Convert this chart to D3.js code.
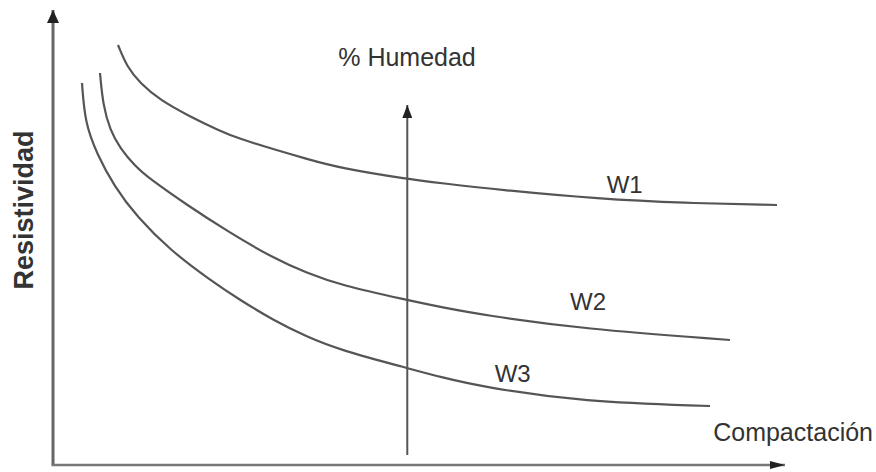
<!DOCTYPE html>
<html>
<head>
<meta charset="utf-8">
<script src="https://d3js.org/d3.v7.min.js"></script>
<style>
  body { margin: 0; background: #fff; }
  text { font-family: "Liberation Sans", Arial, sans-serif; fill: #333; }
</style>
</head>
<body>
<svg id="chart"></svg>
<script>
  // Curves (compactación 0-100 vs resistividad 0-100)
  const w1X = [8.88, 10.11, 11.89, 14.62, 18.31, 22.81, 25.55, 30.05, 34.70, 39.21, 48.36, 52.87, 61.07, 74.73, 86.07, 98.91];
  const w1Y = [92.31, 87.47, 83.96, 80.22, 76.92, 73.41, 71.65, 69.45, 67.25, 65.27, 62.86, 61.98, 60.44, 58.46, 57.58, 57.14];
  const w2X = [6.42, 6.83, 7.79, 9.15, 11.20, 13.25, 18.31, 23.77, 30.05, 34.70, 39.21, 48.36, 52.87, 58.74, 72.40, 92.49];
  const w2Y = [86.15, 79.12, 73.63, 69.67, 65.71, 62.86, 57.14, 51.43, 45.49, 42.20, 39.56, 36.26, 34.73, 32.97, 29.89, 27.47];
  const w3X = [3.96, 4.37, 6.01, 8.33, 11.48, 15.98, 21.45, 25.55, 30.05, 34.70, 39.21, 48.36, 52.87, 58.74, 72.40, 89.75];
  const w3Y = [83.96, 75.16, 68.35, 61.32, 54.51, 47.25, 40.66, 36.26, 31.87, 28.13, 25.27, 21.32, 19.34, 17.14, 13.85, 12.97];
  const seriesNames = ["W1", "W2", "W3"];
  const humedadX = 48.4;
  const humedadRange = [2.2, 79.1];

  const width = 876, height = 472;
  const svg = d3.select("#chart").attr("width", width).attr("height", height);

  const x = d3.scaleLinear().domain([0, 100]).range([53, 785]);
  const y = d3.scaleLinear().domain([0, 100]).range([465, 10]);

  const stroke = "#555";

  const defs = svg.append("defs");
  function marker(id, w, h) {
    defs.append("marker")
      .attr("id", id)
      .attr("viewBox", `0 0 ${w} ${h}`)
      .attr("refX", w).attr("refY", h / 2)
      .attr("markerWidth", w).attr("markerHeight", h)
      .attr("markerUnits", "userSpaceOnUse")
      .attr("orient", "auto")
      .append("path")
      .attr("d", `M0,0L${w},${h / 2}L0,${h}Z`)
      .attr("fill", "#222");
  }
  marker("headY", 13, 12);
  marker("headX", 15, 8);
  marker("headH", 13, 10);

  // axes
  svg.append("line")
    .attr("x1", x(0)).attr("y1", y(0))
    .attr("x2", x(0)).attr("y2", y(100))
    .attr("stroke", "#666").attr("stroke-width", 3)
    .attr("marker-end", "url(#headY)");
  svg.append("line")
    .attr("x1", x(0) - 1.5).attr("y1", y(0))
    .attr("x2", x(100)).attr("y2", y(0))
    .attr("stroke", "#777").attr("stroke-width", 2.5)
    .attr("marker-end", "url(#headX)");

  // humidity arrow
  svg.append("line")
    .attr("x1", x(humedadX)).attr("y1", y(humedadRange[0]))
    .attr("x2", x(humedadX)).attr("y2", y(humedadRange[1]))
    .attr("stroke", stroke).attr("stroke-width", 2)
    .attr("marker-end", "url(#headH)");

  // curves
  const line = d3.line()
    .x(d => x(d[0]))
    .y(d => y(d[1]))
    .curve(d3.curveBasis);

  const series = [
    d3.zip(w1X, w1Y),
    d3.zip(w2X, w2Y),
    d3.zip(w3X, w3Y)
  ];

  svg.selectAll("path.curve")
    .data(series)
    .enter()
    .append("path")
    .attr("class", "curve")
    .attr("d", line)
    .attr("fill", "none")
    .attr("stroke", stroke)
    .attr("stroke-width", 2.2);

  // series labels
  const labelPos = [[78.1, 59.8], [73.1, 34.1], [62.8, 18.2]];
  svg.selectAll("text.series")
    .data(seriesNames)
    .enter()
    .append("text")
    .attr("class", "series")
    .attr("x", (d, i) => x(labelPos[i][0]))
    .attr("y", (d, i) => y(labelPos[i][1]))
    .attr("text-anchor", "middle")
    .attr("font-size", 24)
    .text(d => d);

  // titles
  svg.append("text")
    .attr("x", 407).attr("y", 66)
    .attr("text-anchor", "middle")
    .attr("font-size", 25)
    .text("% Humedad");

  svg.append("text")
    .attr("x", 873).attr("y", 441)
    .attr("text-anchor", "end")
    .attr("font-size", 25)
    .text("Compactación");

  svg.append("text")
    .attr("transform", "translate(33,210) rotate(-90)")
    .attr("text-anchor", "middle")
    .attr("font-size", 27)
    .attr("font-weight", "bold")
    .text("Resistividad");
</script>
</body>
</html>
